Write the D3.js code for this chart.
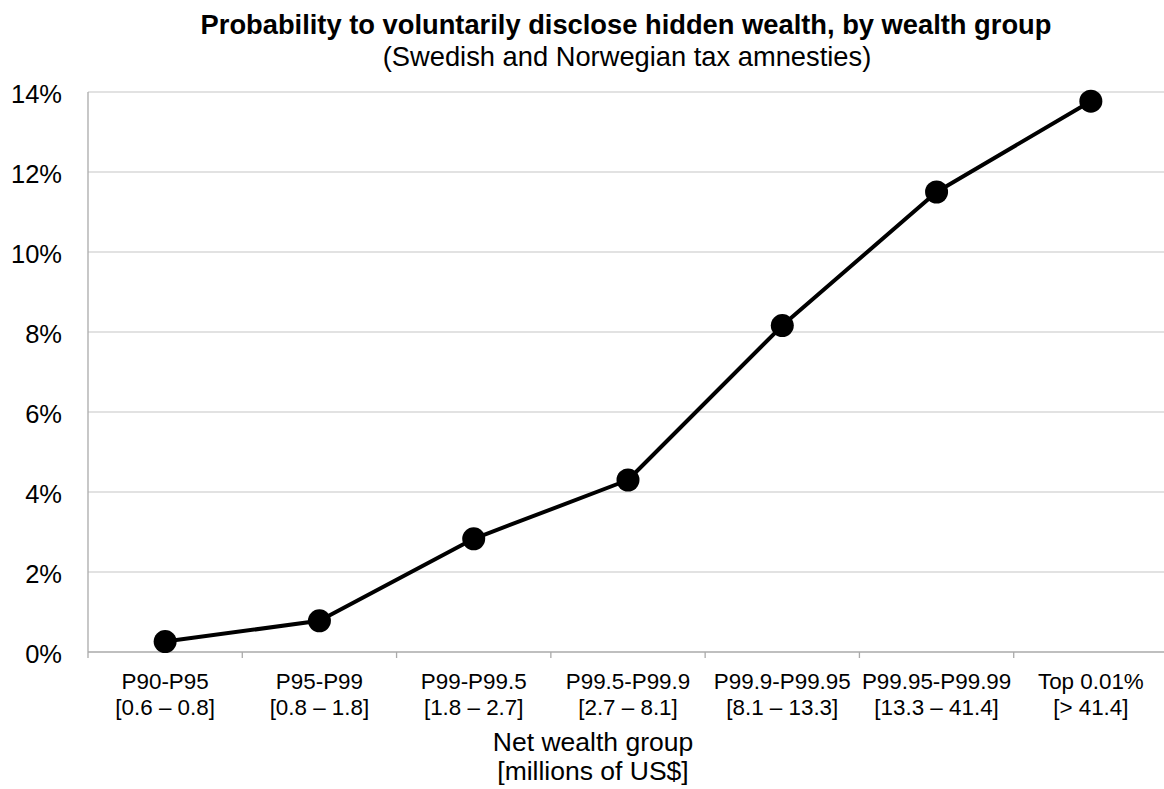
<!DOCTYPE html>
<html>
<head>
<meta charset="utf-8">
<script src="https://cdn.jsdelivr.net/npm/d3@7"></script>
<style>
  html, body { margin: 0; padding: 0; background: #fff; }
  svg { display: block; font-family: "Liberation Sans", Arial, sans-serif; }
</style>
</head>
<body>
<svg id="chart" width="1164" height="789"></svg>
<script>
// ---- data ----
const groups = ["P90-P95", "P95-P99", "P99-P99.5", "P99.5-P99.9", "P99.9-P99.95", "P99.95-P99.99", "Top 0.01%"];
const ranges = ["[0.6 \u2013 0.8]", "[0.8 \u2013 1.8]", "[1.8 \u2013 2.7]", "[2.7 \u2013 8.1]", "[8.1 \u2013 13.3]", "[13.3 \u2013 41.4]", "[> 41.4]"];
const probability = [0.0026, 0.0078, 0.0283, 0.0430, 0.0816, 0.1150, 0.1377];
const yTicks = [0, 0.02, 0.04, 0.06, 0.08, 0.10, 0.12, 0.14];
const titleText = "Probability to voluntarily disclose hidden wealth, by wealth group";
const subtitleText = "(Swedish and Norwegian tax amnesties)";
const xTitleLines = ["Net wealth group", "[millions of US$]"];

(function () {
// ---- layout ----
const svg = d3.select("#chart");
const mLeft = 88, mRight = 1168, mTop = 92, mBottom = 652;

const x = d3.scaleBand().domain(groups).range([mLeft, mRight]).padding(0);
const y = d3.scaleLinear().domain([0, 0.14]).range([mBottom, mTop]);
const cx = d => x(d) + x.bandwidth() / 2;

// gridlines
svg.append("g").selectAll("line").data(yTicks.filter(v => v > 0)).join("line")
  .attr("x1", mLeft).attr("x2", mRight)
  .attr("y1", d => y(d)).attr("y2", d => y(d))
  .attr("stroke", "#d9d9d9").attr("stroke-width", 1.3);

// y axis
const yAxis = svg.append("g").attr("transform", `translate(${mLeft},0)`)
  .call(d3.axisLeft(y).tickValues(yTicks).tickFormat(d3.format(".0%")).tickSize(0).tickPadding(26));
yAxis.select(".domain").remove();
yAxis.selectAll("text")
  .attr("font-size", 25.5).attr("fill", "#000")
  .attr("font-family", "'Liberation Sans', Arial, sans-serif")
  .attr("dy", "0.4em");

svg.append("line").attr("x1", mLeft).attr("x2", mLeft).attr("y1", mTop).attr("y2", mBottom + 6)
  .attr("stroke", "#aaaaaa").attr("stroke-width", 1.3);

// x axis line + boundary ticks
svg.append("line").attr("x1", mLeft).attr("x2", mRight).attr("y1", mBottom).attr("y2", mBottom)
  .attr("stroke", "#aaaaaa").attr("stroke-width", 1.3);
svg.append("g").selectAll("line").data(groups.slice(1)).join("line")
  .attr("x1", d => x(d)).attr("x2", d => x(d))
  .attr("y1", mBottom).attr("y2", mBottom + 6)
  .attr("stroke", "#aaaaaa").attr("stroke-width", 1.3);

// x tick labels
const xl = svg.append("g").selectAll("text").data(groups).join("text")
  .attr("text-anchor", "middle").attr("font-size", 22.4).attr("fill", "#000");
xl.append("tspan").attr("x", d => cx(d)).attr("y", 689).text(d => d);
xl.append("tspan").attr("x", d => cx(d)).attr("y", 715).text((d, i) => ranges[i]);

// x axis title
svg.append("g").selectAll("text").data(xTitleLines).join("text")
  .attr("x", 593).attr("y", (d, i) => 751 + i * 29)
  .attr("text-anchor", "middle").attr("font-size", 26.5).attr("fill", "#000")
  .text(d => d);

// line
const line = d3.line().x((d, i) => cx(groups[i])).y(d => y(d));
svg.append("path").datum(probability)
  .attr("d", line).attr("fill", "none")
  .attr("stroke", "#000").attr("stroke-width", 4).attr("stroke-linejoin", "round");

svg.append("g").selectAll("circle").data(probability).join("circle")
  .attr("cx", (d, i) => cx(groups[i])).attr("cy", d => y(d))
  .attr("r", 11.5).attr("fill", "#000");

// titles
svg.append("text").attr("x", 626).attr("y", 34)
  .attr("text-anchor", "middle").attr("font-size", 27.3).attr("font-weight", "bold")
  .attr("fill", "#000").text(titleText);
svg.append("text").attr("x", 627).attr("y", 66)
  .attr("text-anchor", "middle").attr("font-size", 27.3)
  .attr("fill", "#000").text(subtitleText);
})();
</script>
</body>
</html>
